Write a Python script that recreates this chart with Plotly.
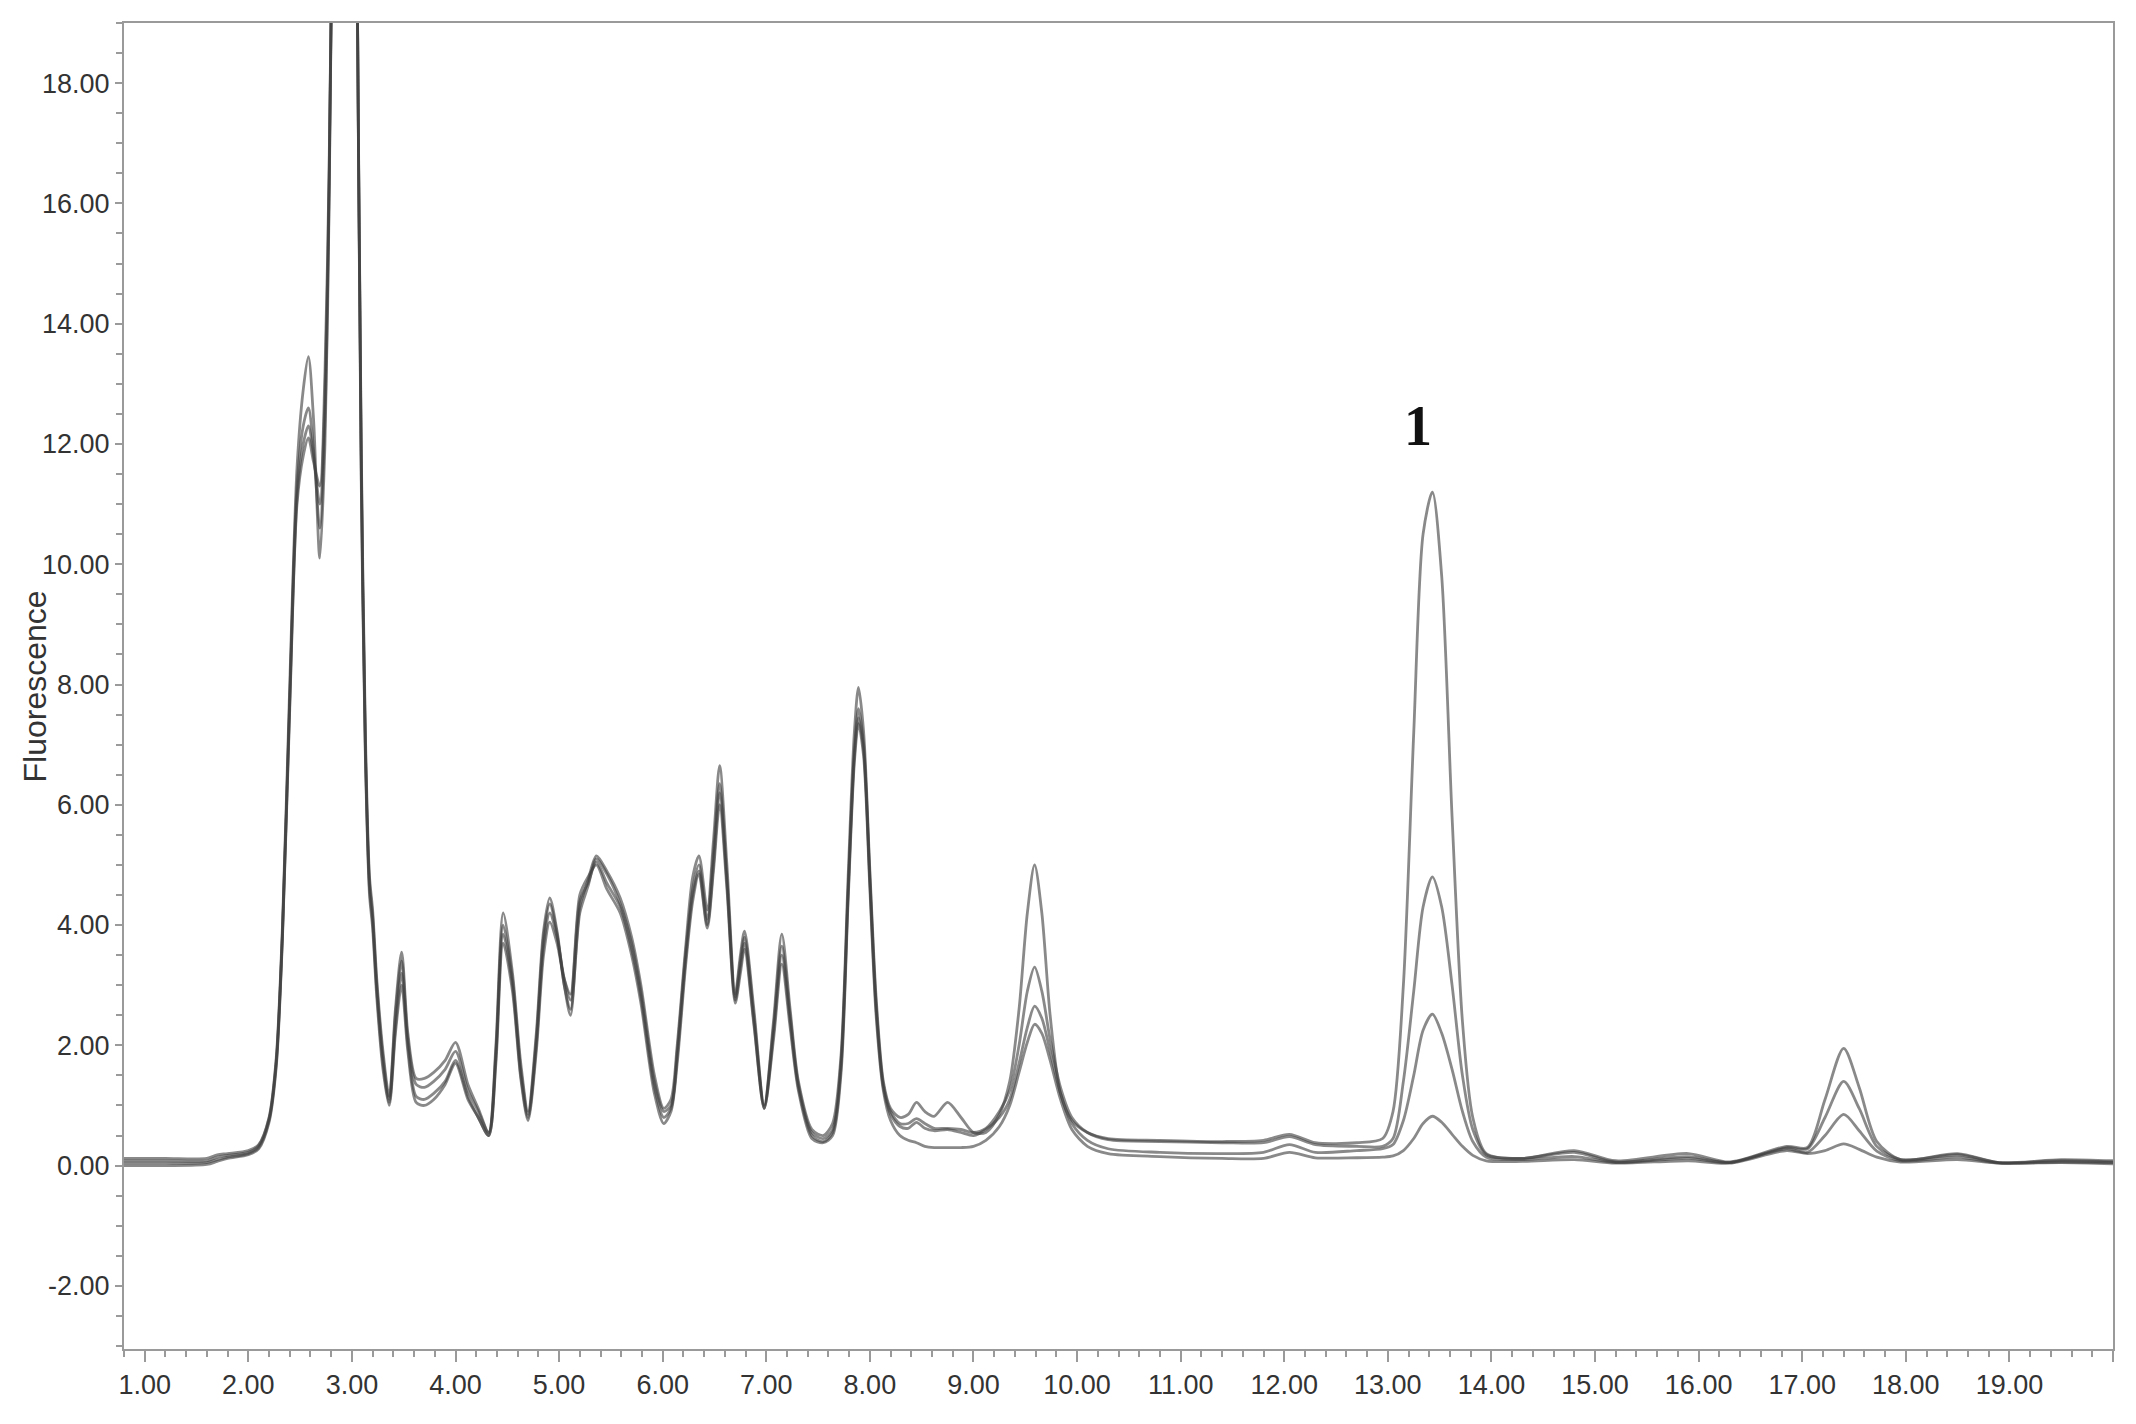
"""
Overlaid fluorescence chromatograms (four runs), peak 1 labelled.
"""
import plotly.graph_objects as go


# ── Data ────────────────────────────────
# retention time (min)
TIME = [
    0.80, 1.20, 1.60, 1.70, 1.80, 2.00, 2.10, 2.20, 2.27, 2.33,
    2.40, 2.47, 2.53, 2.58, 2.63, 2.69, 2.74, 2.78, 2.81, 2.86,
    2.93, 3.00, 3.05, 3.09, 3.13, 3.17, 3.20, 3.24,
    3.30, 3.36, 3.42, 3.48, 3.54, 3.62, 3.70, 3.79, 3.90, 4.00,
    4.12, 4.22, 4.32, 4.39, 4.46, 4.55, 4.63, 4.70, 4.78, 4.85,
    4.91, 4.98, 5.05, 5.11, 5.20, 5.28, 5.36, 5.46, 5.59, 5.70,
    5.79, 5.92, 6.01, 6.08, 6.14, 6.22, 6.29, 6.35, 6.43, 6.49,
    6.55, 6.62, 6.70, 6.75, 6.79, 6.88, 6.98, 7.07, 7.15, 7.23,
    7.31, 7.44, 7.55, 7.64, 7.72, 7.79, 7.85, 7.89, 7.94, 8.00,
    8.06, 8.13, 8.20, 8.29,
    8.37, 8.45, 8.53, 8.62, 8.75, 8.88, 9.00, 9.12, 9.25, 9.35,
    9.44, 9.52, 9.59, 9.66, 9.74, 9.84, 9.95, 10.10, 10.30, 10.80,
    11.40, 11.80, 12.05, 12.30, 12.70, 12.95, 13.05, 13.15, 13.25, 13.34,
    13.43, 13.52, 13.62, 13.72, 13.82, 13.95, 14.30, 14.80, 15.20, 15.90,
    16.30, 16.85, 17.05, 17.22, 17.40, 17.55, 17.72, 17.95, 18.50, 18.90,
    19.50, 20.00,
]

RUN_A = [
    0.12, 0.12, 0.12, 0.18, 0.20, 0.25, 0.35, 0.80, 1.80, 4.00,
    8.00, 11.6, 12.9, 13.45, 12.4, 10.1, 12.0, 16.0, 21.0, 32.0,
    40.0, 32.0, 20.0, 12.0, 7.2, 4.8, 4.25, 3.10,
    1.9, 1.15, 2.6, 3.55, 2.2, 1.45, 1.45, 1.55, 1.75, 2.05,
    1.35, 0.95, 0.55, 2.0, 4.2, 3.2, 1.7, 0.9, 2.2, 3.9,
    4.45, 3.9, 3.0, 2.5, 4.3, 4.75, 5.15, 4.9, 4.45, 3.8,
    3.0, 1.5, 0.95, 1.1, 2.0, 3.6, 4.8, 5.15, 4.25, 5.4,
    6.65, 5.0, 2.85, 3.5, 3.9, 2.6, 1.0, 2.4, 3.85, 2.6,
    1.4, 0.6, 0.5, 0.7, 1.8, 4.8, 7.2, 7.95, 7.2, 4.9,
    2.8, 1.4, 0.95, 0.8,
    0.85, 1.05, 0.9, 0.82, 1.05, 0.8, 0.55, 0.55, 0.85, 1.4,
    2.6, 4.2, 5.0, 4.2, 2.5, 1.2, 0.75, 0.55, 0.45, 0.42,
    0.4, 0.42, 0.52, 0.38, 0.38, 0.45, 0.9, 3.0, 7.2, 10.5,
    11.2, 9.8, 5.8, 2.4, 0.8, 0.2, 0.12, 0.25, 0.08, 0.2,
    0.06, 0.32, 0.3, 1.1, 1.95, 1.3, 0.4, 0.1, 0.2, 0.05,
    0.1, 0.08,
]

RUN_B = [
    0.08, 0.08, 0.08, 0.14, 0.17, 0.22, 0.33, 0.78, 1.75, 3.90,
    7.80, 11.3, 12.3, 12.60, 11.9, 10.6, 12.4, 16.2, 21.0, 32.0,
    40.0, 32.0, 20.0, 11.8, 7.0, 4.7, 4.15, 3.00,
    1.8, 1.1, 2.5, 3.4, 2.1, 1.35, 1.3, 1.4, 1.6, 1.9,
    1.25, 0.9, 0.55, 1.9, 4.0, 3.1, 1.6, 0.85, 2.1, 3.8,
    4.35, 3.85, 3.0, 2.6, 4.2, 4.65, 5.1, 4.85, 4.35, 3.7,
    2.9, 1.4, 0.9, 1.0, 1.9, 3.5, 4.6, 5.0, 4.1, 5.2,
    6.35, 4.8, 2.8, 3.4, 3.8, 2.5, 1.0, 2.3, 3.65, 2.5,
    1.35, 0.55, 0.45, 0.6, 1.7, 4.6, 6.9, 7.6, 7.0, 4.8,
    2.7, 1.35, 0.9, 0.7,
    0.7, 0.78, 0.7, 0.62, 0.62, 0.6, 0.55, 0.62, 0.9, 1.25,
    2.0, 2.9, 3.3, 2.9, 2.1, 1.3, 0.8, 0.55, 0.43, 0.4,
    0.38, 0.38, 0.48, 0.35, 0.32, 0.32, 0.45, 1.4, 2.9, 4.3,
    4.8, 4.3, 3.0, 1.5, 0.6, 0.18, 0.12, 0.22, 0.06, 0.15,
    0.05, 0.3, 0.28, 0.8, 1.4, 0.95, 0.32, 0.1, 0.18, 0.05,
    0.08, 0.06,
]

RUN_C = [
    0.04, 0.04, 0.05, 0.10, 0.14, 0.20, 0.30, 0.75, 1.70, 3.85,
    7.70, 11.1, 12.0, 12.30, 11.8, 11.0, 12.8, 16.4, 21.0, 32.0,
    40.0, 32.0, 20.0, 11.6, 6.9, 4.6, 4.05, 2.90,
    1.7, 1.05, 2.3, 3.2, 2.0, 1.15, 1.1, 1.2, 1.4, 1.75,
    1.15, 0.8, 0.5, 1.8, 3.85, 3.0, 1.5, 0.8, 2.0, 3.65,
    4.2, 3.8, 3.1, 2.75, 4.4, 4.7, 5.05, 4.7, 4.3, 3.6,
    2.8, 1.3, 0.8, 0.95, 1.8, 3.4, 4.5, 4.9, 4.0, 5.0,
    6.2, 4.7, 2.75, 3.3, 3.7, 2.4, 0.95, 2.2, 3.5, 2.4,
    1.3, 0.5, 0.4, 0.55, 1.6, 4.5, 6.8, 7.45, 6.9, 4.7,
    2.6, 1.3, 0.85, 0.65,
    0.62, 0.72, 0.62, 0.58, 0.6, 0.55, 0.5, 0.6, 0.8, 1.1,
    1.7, 2.3, 2.65, 2.45, 1.9, 1.2, 0.7, 0.42, 0.28, 0.22,
    0.2, 0.22, 0.35, 0.22, 0.25, 0.28, 0.35, 0.75, 1.5, 2.25,
    2.52, 2.2, 1.6, 0.9, 0.4, 0.14, 0.1, 0.15, 0.05, 0.12,
    0.05, 0.28, 0.22, 0.5, 0.85, 0.58, 0.24, 0.08, 0.14, 0.04,
    0.06, 0.05,
]

RUN_D = [
    0.00, 0.00, 0.02, 0.07, 0.12, 0.18, 0.28, 0.72, 1.65, 3.80,
    7.60, 11.0, 11.8, 12.10, 11.7, 11.3, 13.2, 16.6, 21.0, 32.0,
    40.0, 32.0, 20.0, 11.4, 6.8, 4.5, 3.95, 2.80,
    1.6, 1.0, 2.2, 3.0, 1.9, 1.05, 1.0, 1.1, 1.35, 1.7,
    1.1, 0.8, 0.5, 1.7, 3.7, 2.9, 1.45, 0.75, 1.9, 3.5,
    4.05, 3.7, 3.1, 2.85, 4.5, 4.8, 5.0, 4.6, 4.2, 3.5,
    2.7, 1.2, 0.7, 0.9, 1.7, 3.3, 4.4, 4.85, 3.95, 4.9,
    6.0, 4.6, 2.7, 3.2, 3.6, 2.35, 0.95, 2.1, 3.35, 2.3,
    1.25, 0.45, 0.38, 0.5, 1.5, 4.4, 6.7, 7.35, 6.8, 4.6,
    2.5, 1.25, 0.75, 0.5,
    0.42, 0.38, 0.32, 0.3, 0.3, 0.3, 0.32, 0.42, 0.65, 1.0,
    1.55, 2.05, 2.35, 2.2, 1.75, 1.1, 0.6, 0.32, 0.2, 0.15,
    0.12, 0.12, 0.22, 0.13, 0.13, 0.14, 0.16, 0.25, 0.45, 0.7,
    0.82, 0.72, 0.52, 0.32, 0.17, 0.08, 0.07, 0.1, 0.04, 0.08,
    0.04, 0.25, 0.2, 0.25, 0.36, 0.27, 0.14, 0.06, 0.1, 0.04,
    0.05, 0.03,
]

RUNS = [RUN_A, RUN_B, RUN_C, RUN_D]

# axis ticks (instrument software prints a plain hyphen for negatives)
Y_TICKS = [-2, 0, 2, 4, 6, 8, 10, 12, 14, 16, 18]
Y_LABELS = ["-2.00", "0.00", "2.00", "4.00", "6.00", "8.00",
            "10.00", "12.00", "14.00", "16.00", "18.00"]

PEAK_LABEL = "1"
PEAK_POS = (13.29, 12.3)

LINE = "rgba(65,65,65,0.62)"
AXIS = "#9a9a9a"
TEXT = "#333333"
TICK_FONT = dict(family="Liberation Sans, Arial", size=27, color=TEXT)

fig = go.Figure()
for run in RUNS:
    fig.add_trace(go.Scatter(
        x=TIME, y=run,
        mode="lines",
        line=dict(color=LINE, width=2.8, shape="spline", smoothing=0.8),
        showlegend=False,
        hoverinfo="skip",
    ))

fig.add_annotation(
    x=PEAK_POS[0], y=PEAK_POS[1], xref="x", yref="y",
    text=f"<b>{PEAK_LABEL}</b>", showarrow=False,
    font=dict(family="Liberation Serif, Times New Roman, serif", size=56, color="#111"),
)
fig.add_annotation(
    x=-0.0445, y=0.5, xref="paper", yref="paper",
    xanchor="center", yanchor="middle",
    text="Fluorescence", textangle=-90, showarrow=False,
    font=dict(family="Liberation Sans, Arial", size=32, color=TEXT),
)

# page body has an 8px margin, so the figure is 16px smaller than the window
fig.update_layout(
    width=2120, height=1408,
    paper_bgcolor="white", plot_bgcolor="white",
    margin=dict(l=116, r=15, t=15, b=67),
    xaxis=dict(
        range=[0.8, 20.0], tick0=1, dtick=1, tickformat=".2f",
        ticks="outside", ticklen=11, tickwidth=2, tickcolor=AXIS,
        minor=dict(ticks="outside", ticklen=6, tickwidth=2, tickcolor=AXIS,
                   tick0=0.8, dtick=0.2),
        showline=True, linecolor=AXIS, linewidth=2, mirror=True,
        showgrid=False, zeroline=False, tickfont=TICK_FONT,
    ),
    yaxis=dict(
        range=[-3.05, 19.0], tickvals=Y_TICKS, ticktext=Y_LABELS,
        ticks="outside", ticklen=7, tickwidth=2, tickcolor=AXIS,
        minor=dict(ticks="outside", ticklen=6, tickwidth=2, tickcolor=AXIS,
                   tick0=0, dtick=0.5),
        showline=True, linecolor=AXIS, linewidth=2, mirror=True,
        showgrid=False, zeroline=False, tickfont=TICK_FONT,
    ),
)

fig.write_html("out.html")
